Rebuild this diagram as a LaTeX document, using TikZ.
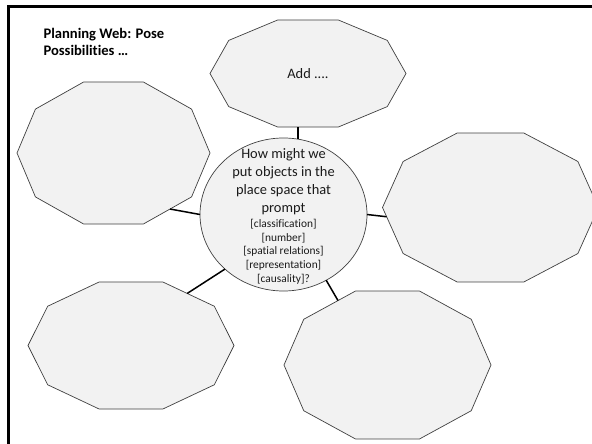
\documentclass[tikz,border=0pt]{standalone}
\usepackage{fontspec}
\setmainfont{Carlito}[Ligatures=NoCommon]
\usetikzlibrary{shapes.geometric}

\definecolor{shapefill}{HTML}{F2F2F2}
\definecolor{shapeline}{HTML}{404040}
\definecolor{textgray}{HTML}{1A1A1A}

\tikzset{
  deca/.style={regular polygon, regular polygon sides=10,
    draw=shapeline, fill=shapefill, line width=0.7pt,
    minimum size=100pt, inner sep=0pt, outer sep=0pt, transform shape},
  hub/.style={ellipse, draw=shapeline, fill=shapefill, line width=0.7pt,
    minimum width=167pt, minimum height=153pt, inner sep=0pt, outer sep=0pt},
  link/.style={draw=black, line width=1.5pt},
  bigtxt/.style={font=\fontsize{14.4}{17.8}\selectfont, text=textgray,
    align=center, inner sep=0pt},
  smalltxt/.style={font=\fontsize{11.4}{13.7}\selectfont, text=textgray,
    align=center, inner sep=0pt},
  title/.style={font=\bfseries\fontsize{14.6}{17.3}\selectfont,
    align=left, inner sep=0pt, anchor=north west},
}

\begin{document}
\begin{tikzpicture}[x=1pt,y=-1pt]
  \useasboundingbox (0,0) rectangle (592,444);
  \clip (0,0) rectangle (592,444);

  % slide frame (only top and left edges fall inside)
  \draw[line width=2.6pt, line join=miter] (8.6,450) -- (8.6,6.3) -- (600,6.3);

  % title
  \node[title] (ttl) at (43.3,27.6) {Planning Web: Pose\\Possibilities …};

  % central question
  \node[hub] (c) at (283.5,214.5) {};
  \node[bigtxt] (cq) at (283.5,181.6)
    {How might we\\put objects in the\\place space that\\prompt};
  \node[smalltxt] (cl) at (283.5,251.6)
    {[classification]\\[0pt][number]\\[0pt][spatial relations]\\[0pt][representation]\\[0pt][causality]?};

  % surrounding decagons
  \node[deca, xscale=98/50,    yscale=56.3/50] (t)  at (308,73.5)    {};
  \node[deca, xscale=96.5/50,  yscale=74.7/50] (tl) at (113.5,153)   {};
  \node[deca, xscale=108/50,   yscale=78.3/50] (r)  at (490.5,207.5) {};
  \node[deca, xscale=103/50,   yscale=66.8/50] (bl) at (131,345.5)   {};
  \node[deca, xscale=103.5/50, yscale=77.8/50] (br) at (387.5,365)   {};

  \node[font=\fontsize{14.4}{17.3}\selectfont, text=textgray, anchor=base,
        inner sep=0pt] (add) at (308,78) {Add ....};

  % connectors
  \draw[link] (c.79)   -- (c.79 |- t.south);
  \draw[link] (c.180)  -- (tl.-52);
  \draw[link] (c.0)    -- (r.-173);
  \draw[link] (c.-137) -- (bl.55);
  \draw[link] (c.-57)  -- (br.120);
\end{tikzpicture}
\end{document}
